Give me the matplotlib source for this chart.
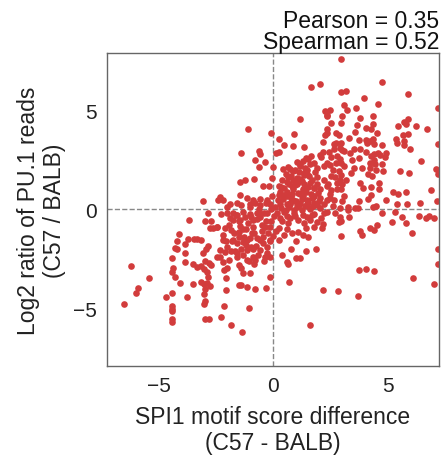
import matplotlib.pyplot as plt

plt.rcParams['font.family'] = ['Liberation Sans', 'DejaVu Sans']

# motif score difference (x) and log2 read ratio (y)
motif_diff = [
    # upper middle
    1.67, 2.06, 1.19, -1.07, -0.07, 0.92, 0.25, 0.49, 0.89, 2.29, 2.35, 2.35, 2.29,
    -1.38, -0.62, -0.56, 0.14, 0.25, -0.77, -0.33, -0.59, 0.02, 1.36, 2.18, 2.09,
    0.75, 0.89, 1.19, 1.33, 1.55, 1.77, 1.91, 2.21, 2.35, 1.36, 1.56, 1.91, 0.67,
    0.89, 1.19, 0.63, 1.04, 1.36, 1.62, 1.91, 2.23, -0.83, -0.04, -1.24, -1.44,
    -0.42, -0.19, 0.25, 0.46, 0.89, 1.33, 1.77, 2.06, 2.35, -2.31, -2.17, -1.44,
    -1.15, -0.86, -0.56, -0.27, -0.05, 0.25, 0.60, 0.89, 1.19, 1.48, 1.77, 2.06,
    2.35, -1.88, -1.59, -1.00, -0.56, -0.13, 0.31, 0.75, 1.04, 1.48, 1.91, 2.21,
    # upper right
    2.99, 4.74, 5.91, 2.96, 3.17, 3.98, 4.57, 3.11, 3.63, 7.19, 2.50, 3.22, 2.35,
    3.02, 3.78, 4.36, 2.55, 2.99, 3.69, 4.04, 4.36, 4.54, 4.27, 5.47, 5.73, 5.91,
    5.82, 6.23, 6.72, 2.35, 2.76, 2.87, 3.57, 3.75, 4.07, 4.22, 4.10, 4.36, 4.42,
    4.74, 5.35, 5.41, 5.67, 5.70, 5.73, 5.91, 5.97, 7.19, 2.76, 2.99, 2.67, 2.93,
    3.08, 3.37, 3.55, 3.78, 4.07, 4.39, 4.57, 4.68, 4.95, 4.89, 2.52, 2.79, 2.93,
    3.75, 4.30, 4.42, 4.25, 4.45, 4.74, 2.50, 2.76, 2.99, 3.52, 3.90, 4.22, 4.51,
    4.80, 6.46, 2.87, 2.96, 3.40, 4.13, 4.33, 5.53, 5.94, 7.10, 7.22, 2.70, 2.93,
    2.79, 3.02, 3.81, 3.95, 4.30, 4.62, 4.65, 2.79, 2.96, 2.52, 5.24, 5.44, 5.82,
    6.90, 4.30, 4.16, 2.50, 2.67, 3.02, 3.75, 4.95, 5.41, 5.85, 6.40, 7.16, 4.51,
    3.28, 3.72, 2.93, 2.64,
    # lower middle
    -2.29, -2.02, -1.88, -1.73, -1.56, -1.44, -1.32, -1.21, -1.00, -0.89, -0.71,
    -0.56, -0.27, -0.10, 0.16, 0.31, 0.46, 0.60, 0.75, 0.92, 1.11, 1.30, 1.48,
    1.62, 1.77, 1.91, 2.09, 2.21, 2.35, -2.43, -2.11, -1.85, -1.50, -1.18, -0.86,
    -0.48, -0.13, 0.25, 0.63, 0.83, 1.10, 1.45, 1.51, 1.77, 2.12, -2.17, -2.02,
    -1.73, -1.59, -1.50, -1.32, -1.15, -1.00, -0.83, -0.68, -0.56, -0.42, -0.27,
    -0.13, 0.02, 0.25, -1.41, -1.15, -0.86, -0.56, -0.27, -2.31, -2.10, -1.59,
    -1.85, -2.31, -2.17, -2.02, -1.94, -1.59, -1.50, -1.41, -1.15, -0.86, -0.77,
    -0.33, -0.13, 0.40, 0.60, 0.66, 0.78, 1.01, 1.19, 1.45, 1.88, -1.29, -1.00,
    -2.14, -2.05, -0.13, -1.50, -1.41, -1.15, -0.80, -0.30, -2.05, 0.72, 2.18,
    -2.14, -1.06, -2.26, -1.85, -1.35, 1.62,
    # lower right
    2.70, 2.93, 2.96, 2.90, 3.28, 3.31, 3.60, 4.36, 4.74, 5.32, 5.21, 5.62, 5.79,
    6.37, 6.67, 6.81, 7.02, 2.99, 3.81, 3.87, 4.25, 4.42, 4.54, 6.05, 7.19, 7.22,
    3.75, 4.04, 4.39, 6.11, 7.02, 2.85, 3.72,
    # lower left
    -2.86, -3.69, -2.99, -2.69, -4.09, -2.75, -2.61, -2.46, -4.18, -4.27, -4.18,
    -3.72, -3.45, -3.31, -3.15, -3.83, -2.84, -2.93, -3.04, -3.86, -4.40, -3.86,
    -2.46, -2.96, -2.81, -2.69, -3.48, -3.31, -3.13, -3.02, -4.36, -4.39, -2.90,
    -2.84, -6.19, -5.43, -4.30, -4.07, -3.51, -3.16, -3.02, -2.90, -2.75, -2.96,
    -5.90, -5.99, -4.39, -3.02, -4.68, -3.74, -2.96, -3.02, -6.52, -4.42, -4.39,
    -4.39, -4.39, -4.39, -2.96, -2.81, -3.04, -2.39,
    # dense core
    0.40, 0.55, 0.70, 0.80, 0.95, 1.05, 1.15, 1.25, 1.40, 1.50, 1.60, 1.70, 1.85,
    1.45, 1.65, 1.20, 0.30, 0.45, 0.60, 0.75, 0.85, 1.00, 1.10, 1.20, 1.30, 1.45,
    1.55, 1.65, 1.80, 1.95, 2.00, 0.20, 0.10, 0.35, 0.55, 0.70, 0.90, 1.05, 1.25,
    1.40, 1.60, 1.75, 2.05, 0.05, 0.40, 0.65, 0.95, 1.35, 1.70, 2.20, 0.15, 0.50,
    1.00, 1.30, -1.90, -1.70, -1.50, -1.30, -1.10, -0.90, -0.70, -0.50, -0.30,
    -0.20, -1.20, -0.95, -0.65, -0.45, -1.60, -1.00, -0.60, -0.30, -2.20, -1.80,
    -0.10, -0.40, -0.80, -1.40, -2.00, 2.40, 2.60, 2.45, 2.55, 3.10, 3.20, 3.30,
    2.65, 3.00, 3.45, 2.20, 2.05, 2.50, 3.10,
    0.35, 0.50, 0.65, 0.80, 1.10, 1.30, 1.55, 1.75, 0.95, 1.15, 1.35, 1.60, 0.60,
    0.85, 1.05, 1.50, 1.80, 0.45, 1.25, 1.70, -1.75, -1.45, -1.25, -0.95, -0.75,
    -0.35, -0.15, -2.05, -1.65, -1.05, -0.55, -0.85, -1.30, -0.40,
]
log2_ratio = [
    # upper middle
    6.20, 6.32, 4.57, 4.05, 3.85, 3.78, 3.53, 3.26, 3.19, 4.96, 4.71, 4.07, 3.73,
    2.84, 2.97, 2.79, 2.84, 2.89, 2.49, 2.39, 2.15, 2.12, 3.13, 2.89, 2.66,
    2.02, 1.93, 2.18, 2.44, 2.52, 2.35, 2.10, 2.18, 2.35, 1.85, 1.68, 1.65, 1.65,
    1.51, 1.55, 1.38, 1.26, 1.26, 1.34, 1.26, 1.51, 1.55, 1.58, 1.51, 1.38,
    1.18, 1.18, 1.18, 1.09, 1.01, 1.01, 1.09, 1.01, 1.18, 0.64, 0.50, 0.74,
    0.60, 0.50, 0.55, 0.50, 0.67, 0.71, 0.67, 0.50, 0.76, 0.50, 0.67, 0.59,
    0.50, 0.25, 0.34, 0.25, 0.20, 0.25, 0.25, 0.25, 0.25, 0.25, 0.20, 0.25,
    # upper right
    7.60, 6.45, 5.80, 5.92, 5.95, 5.63, 5.33, 5.29, 5.11, 5.13, 5.01, 5.01, 4.77,
    4.71, 4.62, 4.72, 4.34, 4.34, 4.24, 4.12, 4.29, 3.87, 4.07, 4.20, 4.40, 4.54,
    4.30, 4.20, 4.07, 3.87, 3.87, 3.73, 3.90, 3.50, 3.50, 3.46, 3.33, 3.53, 3.28,
    3.23, 3.53, 3.36, 3.73, 3.46, 3.26, 3.80, 3.03, 3.31, 3.33, 3.33, 3.03, 3.11,
    2.94, 2.86, 3.03, 3.03, 2.89, 2.82, 2.86, 2.77, 2.86, 2.66, 2.66, 2.72, 2.55,
    2.60, 2.69, 2.49, 2.35, 2.27, 2.27, 2.25, 2.32, 2.35, 2.10, 2.10, 2.10, 1.98,
    1.93, 2.45, 1.95, 1.76, 1.85, 1.81, 1.71, 1.92, 1.85, 2.02, 1.81, 1.65, 1.51,
    1.34, 1.26, 1.34, 1.09, 1.11, 1.34, 1.01, 1.01, 1.01, 0.97, 0.89, 0.76, 0.87,
    0.96, 0.72, 0.54, 0.57, 0.50, 0.42, 0.45, 0.50, 0.29, 0.29, 0.34, 0.42, 0.17,
    0.13, 0.08, 0.08, 0.17,
    # lower middle
    -0.23, -0.20, -0.45, -0.17, -0.28, -0.54, -0.12, -0.37, -0.23, -0.54, -0.17,
    -0.37, -0.20, -0.57, -0.20, -0.45, -0.12, -0.33, -0.45, -0.20, -0.54, -0.28, -0.37,
    -0.54, -0.23, -0.62, -0.45, -0.20, -0.12, -0.87, -0.96, -1.04, -1.12, -0.97, -0.87,
    -0.79, -0.91, -0.96, -0.97, -1.21, -1.12, -0.96, -1.38, -0.87, -0.96, -1.55, -1.88,
    -1.55, -1.71, -1.38, -1.63, -1.55, -1.46, -1.21, -1.46, -1.55, -1.71, -1.88,
    -1.55, -1.34, -1.55, -1.98, -2.05, -1.98, -2.05, -2.22, -2.05, -2.13, -2.22,
    -2.08, -2.39, -2.64, -2.97, -2.55, -2.39, -2.81, -2.97, -2.55, -2.39, -2.55,
    -2.39, -2.39, -2.32, -2.64, -2.76, -1.98, -2.47, -2.47, -2.12, -2.02, -3.23, -3.23,
    -3.06, -3.48, -3.43, -3.80, -3.83, -3.93, -4.00, -3.97, -4.07, -3.66, -4.07,
    -4.87, -4.97, -5.41, -5.81, -6.18, -5.81,
    # lower right
    -0.17, -0.37, -0.57, -0.62, -0.03, -0.40, 0.05, 0.10, -0.17, -0.13, -0.62, -0.40, -0.67,
    -0.32, -0.42, -0.32, -0.44, -1.33, -1.07, -1.29, -0.94, -1.04, -0.79, -1.21, -2.02, -2.76,
    -3.06, -3.01, -3.09, -3.46, -3.75, -4.10, -4.39,
    # lower left
    -0.17, -0.53, -0.57, -0.60, -1.24, -0.96, -0.92, -0.87, -1.61, -1.92, -1.97,
    -1.51, -1.48, -1.48, -1.54, -1.75, -1.85, -2.02, -2.22, -2.18, -2.45, -2.64,
    -2.39, -2.59, -2.72, -2.79, -2.75, -2.89, -2.85, -2.99, -2.96, -3.16, -3.16,
    -3.39, -2.84, -3.46, -3.43, -3.70, -3.76, -3.66, -3.76, -3.70, -3.86, -4.03,
    -3.96, -4.20, -4.20, -4.27, -4.44, -4.44, -4.64, -4.77, -4.79, -4.87, -5.00,
    -5.11, -5.55, -5.68, -5.55, -5.55, 0.44, 0.50,
    # dense core
    1.50, 1.80, 1.30, 1.70, 2.00, 1.60, 1.90, 1.45, 2.10, 1.80, 2.30, 1.50, 1.90,
    2.60, 2.70, 2.30, 0.90, 0.55, 0.90, 0.35, 0.80, 0.45, 0.85, 0.30, 0.70, 0.90,
    0.40, 0.80, 0.35, 0.85, 0.45, 0.50, 0.10, 0.05, -0.05, 0.10, -0.05, 0.10, -0.05,
    0.15, 0.05, 0.15, 0.05, -0.35, -0.60, -0.70, -0.35, -0.70, -0.30, -0.75, -1.10, -1.30,
    -1.60, -1.30, -0.80, -1.20, -0.60, -1.00, -0.70, -1.20, -0.50, -1.10, -0.60,
    -1.20, -1.80, -1.90, -2.30, -1.40, -0.30, 0.10, 0.00, 0.35, -1.30, -1.60,
    0.00, -0.20, 0.30, 0.20, 0.10, 1.30, 2.00, 2.90, 1.70, 2.20, 1.50, 3.60,
    3.30, 3.00, 2.50, 3.40, 2.75, 0.80, 0.70,
    1.15, 0.75, 2.15, 0.60, 1.40, 0.95, 1.15, 0.65, 1.25, 0.20, 1.75, 0.00, 0.25,
    1.20, 2.40, 2.00, 1.10, 2.05, 0.55, 0.60, -0.55, -0.85, -1.40, -0.40, -1.85,
    -0.90, -1.60, -1.60, -2.10, -2.60, -0.25, -2.75, -2.30, -2.60,
]

fig = plt.figure(figsize=(4.43, 4.56), dpi=100)
ax = fig.add_axes([0.2415, 0.195, 0.7495, 0.687])

ax.axvline(0, color='#888888', ls='--', lw=1, zorder=1)
ax.axhline(0, color='#888888', ls='--', lw=1, zorder=1)
ax.scatter(motif_diff, log2_ratio, s=23, color='#d23c3c', linewidths=0, zorder=2)

ax.set_xlim(-7.25, 7.25)
ax.set_ylim(-7.9, 7.9)
ax.set_xticks([-5, 0, 5])
ax.set_yticks([-5, 0, 5])
ax.tick_params(length=0, labelsize=15, labelcolor='#222222', pad=7)
for sp in ax.spines.values():
    sp.set_color('#666666')
    sp.set_linewidth(1)

ax.set_xlabel('SPI1 motif score difference\n(C57 - BALB)', fontsize=16.5, color='#222222', labelpad=7)
ax.set_ylabel('Log2 ratio of PU.1 reads\n(C57 / BALB)', fontsize=16.5, color='#222222', labelpad=5)
ax.set_title('Pearson = 0.35\nSpearman = 0.52', loc='right', fontsize=16.5,
             color='#111111', pad=1, linespacing=0.9)

fig.savefig('out.png', dpi=100)
